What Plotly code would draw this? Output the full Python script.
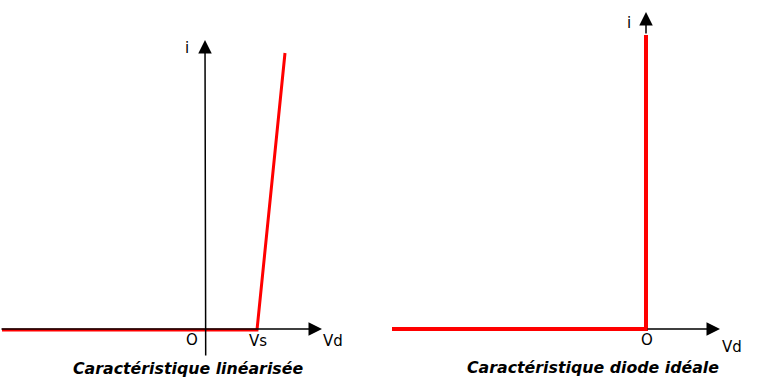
import plotly.graph_objects as go
from plotly.subplots import make_subplots

# Linearised characteristic (left): Vd vs i
vd_lin = [-203, 52, 80]
i_lin = [-1, -1, 276]
# Ideal diode characteristic (right)
vd_ideal = [-254, 0, 0]
i_ideal = [0, 0, 294]

titles = ["Caractéristique linéarisée", "Caractéristique diode idéale"]
FONT = "DejaVu Sans"

fig = make_subplots(rows=1, cols=2, horizontal_spacing=0)
fig.add_trace(go.Scatter(x=vd_lin, y=i_lin, mode="lines",
                         line=dict(color="#ff0000", width=3), hoverinfo="skip"), 1, 1)
fig.add_trace(go.Scatter(x=vd_ideal, y=i_ideal, mode="lines",
                         line=dict(color="#ff0000", width=4), hoverinfo="skip"), 1, 2)

def arrow(xr, yr, x, y, ax, ay):
    fig.add_annotation(xref=xr, yref=yr, axref=xr, ayref=yr, x=x, y=y, ax=ax, ay=ay,
                       text="", showarrow=True, arrowhead=2, arrowsize=1.8,
                       arrowwidth=1.5, arrowcolor="black", standoff=0, startstandoff=0)

# axes of left panel
arrow("x", "y", 117, 0, -205, 0)
arrow("x", "y", 0, 289, 0.7, -28)
# axes of right panel
arrow("x2", "y2", 74, 0, 0, 0)
arrow("x2", "y2", 0, 317, 0, 294)

def label(xr, yr, x, y, t, size=15, title=False):
    fig.add_annotation(xref=xr, yref=yr, x=x, y=y, text=t, showarrow=False,
                       font=dict(family=FONT, size=size, color="black",
                                 weight="bold" if title else "normal",
                                 style="italic" if title else "normal"))

label("x", "y", -18, 281, "i")
label("x", "y", -13, -11, "O")
label("x", "y", 53, -12, "Vs")
label("x", "y", 128, -12, "Vd")
label("x", "y", -17, -39, titles[0], size=15.8, title=True)

label("x2", "y2", -17, 306, "i")
label("x2", "y2", 1, -11, "O")
label("x2", "y2", 86, -18, "Vd")
label("x2", "y2", -53, -38, titles[1], size=15.8, title=True)

ax_common = dict(visible=False, showgrid=False, zeroline=False, fixedrange=True)
fig.update_xaxes(ax_common)
fig.update_yaxes(ax_common)
fig.update_layout(
    xaxis=dict(domain=[0, 0.5], range=[-205, 176]),
    xaxis2=dict(domain=[0.5, 1], range=[-265, 116]),
    yaxis=dict(range=[-61, 329]),
    yaxis2=dict(range=[-61, 329]),
    width=762, height=390, margin=dict(l=0, r=0, t=0, b=0),
    paper_bgcolor="white", plot_bgcolor="white", showlegend=False,
)
fig.write_html("out.html")
